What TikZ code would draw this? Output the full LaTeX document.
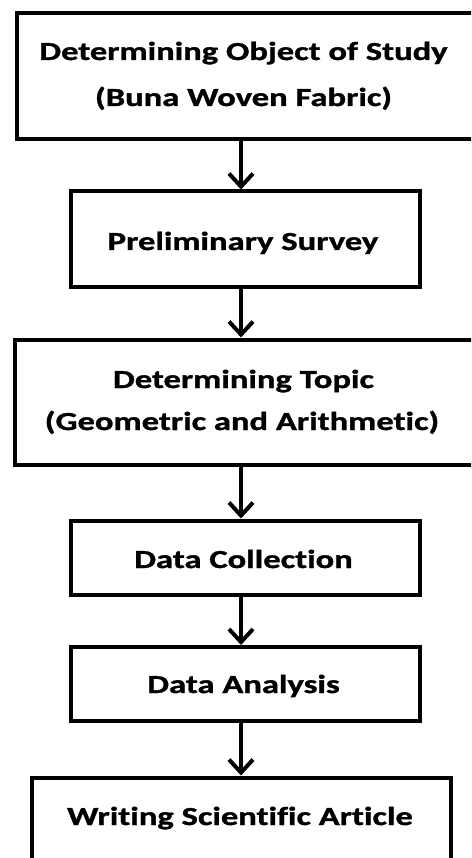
\documentclass[tikz,border=0pt]{standalone}
\usepackage{fontspec}
\setmainfont{Carlito}[FakeStretch=1.33, Ligatures=NoCommon, BoldFeatures={FakeBold=1.2}]
\usetikzlibrary{arrows.meta}
\begin{document}
\begin{tikzpicture}[x=1pt,y=1pt,
  stepbox/.style={draw=black, line width=4pt, fill=white, inner sep=0pt},
  label/.style={anchor=base, inner sep=0pt, font=\fontsize{26}{30}\selectfont\bfseries},
  flow/.style={line width=4pt, -{Straight Barb[length=13pt,width=24pt]}}]
\useasboundingbox (0,0) rectangle (471,-858);
\clip (0,0) rectangle (471,-858);
% boxes (centre, border-line size)
\node[stepbox, minimum width=459, minimum height=125.5] (b1) at (246.5,-76.25) {};
\node[stepbox, minimum width=349, minimum height=95.5] (b2) at (245,-239.25) {};
\node[stepbox, minimum width=461, minimum height=125] (b3) at (245.5,-402) {};
\node[stepbox, minimum width=349, minimum height=74] (b4) at (245,-557.5) {};
\node[stepbox, minimum width=349, minimum height=73.5] (b5) at (245,-683.75) {};
\node[stepbox, minimum width=419, minimum height=90] (b6) at (241.5,-822.5) {};
% texts
\node[label] (t1a) at (243.5,-60) {Determining Object of Study};
\node[label] (t1b) at (243.5,-106) {(Buna Woven Fabric)};
\node[label] (t2) at (243,-250) {Preliminary Survey};
\node[label] (t3a) at (243.5,-388) {Determining Topic};
\node[label] (t3b) at (242,-430) {(Geometric and Arithmetic)};
\node[label] (t4) at (243.5,-568) {Data Collection};
\node[label] (t5) at (243.5,-693) {Data Analysis};
\node[label] (t6) at (240,-825) {Writing Scientific Article};
% connectors
\coordinate (ax) at (241,0);
\draw[flow] (b1.south -| ax) -- (b2.north -| ax);
\draw[flow] (b2.south -| ax) -- (b3.north -| ax);
\draw[flow] (b3.south -| ax) -- (b4.north -| ax);
\draw[flow] (b4.south -| ax) -- (b5.north -| ax);
\draw[flow] (b5.south -| ax) -- (b6.north -| ax);
\end{tikzpicture}
\end{document}
